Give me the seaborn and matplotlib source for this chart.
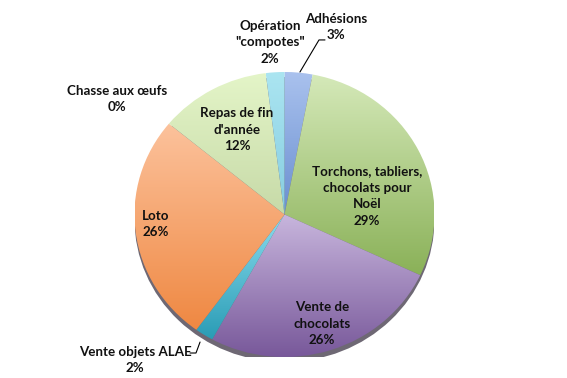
import numpy as np
import matplotlib
matplotlib.use("Agg")
import matplotlib.pyplot as plt
import seaborn as sns
from matplotlib.colors import LinearSegmentedColormap
from matplotlib.patches import Ellipse

sns.set_theme(style="white")
plt.rcParams['font.family'] = ['Lato', 'DejaVu Sans']

# ---- data ----
categories = ["Adhésions", "Torchons, tabliers,\nchocolats pour\nNoël",
              "Vente de\nchocolats", "Vente objets ALAE", "Loto",
              "Chasse aux œufs", "Repas de fin\nd'année", "Opération\n\"compotes\""]
values = [3, 29, 26, 2, 26, 0, 12, 2]
pct_labels = ["3%", "29%", "26%", "2%", "26%", "0%", "12%", "2%"]
top_colors = ["#AAC2EE", "#D5E9B9", "#C8B6DD", "#8ADCEE", "#FCC29C",
              "#E8A0A0", "#E4F5C8", "#ABE5F1"]
bot_colors = ["#6A8FD0", "#8AB158", "#78589A", "#2A9CB5", "#EF8842",
              "#C06060", "#C7DAA8", "#86CDE0"]

# label anchor positions (data units of the pie, radius 1)
label_pos = [(0.343, 1.316), (0.55, 0.13), (0.25, -0.768), (-0.997, -1.02),
             (-0.857, -0.067), (-1.117, 0.81), (-0.317, 0.593), (-0.097, 1.21)]

fig = plt.figure(figsize=(5.67, 3.78), dpi=100)
cx, cy, rx, ry = 284.5, 214.5, 150.0, 142.5
ax = fig.add_axes([(cx - rx) / 567, (378 - cy - ry) / 378, 2 * rx / 567, 2 * ry / 378])

# shadow
shadow = Ellipse((0.0, -0.035), 2.0, 2.0, facecolor="#3d3545", alpha=0.75,
                 edgecolor="none", zorder=0)
ax.add_patch(shadow)

wedges, _ = ax.pie(values, startangle=90, counterclock=False, radius=1.0,
                   colors=top_colors, wedgeprops=dict(linewidth=0))

for w, v, ct, cb in zip(wedges, values, top_colors, bot_colors):
    if v == 0:
        w.set_visible(False)
        continue
    w.set_facecolor("none")
    bb = w.get_path().get_extents()
    cmap = LinearSegmentedColormap.from_list("g", [cb, ct])
    grad = np.linspace(0, 1, 256).reshape(-1, 1)
    im = ax.imshow(grad, extent=[bb.x0, bb.x1, bb.y0, bb.y1], origin="lower",
                   cmap=cmap, interpolation="bilinear", zorder=1)
    im.set_clip_path(w)

ax.set_aspect("auto")
ax.set_xlim(-1, 1)
ax.set_ylim(-1, 1)
ax.axis("off")

for cat, p, (x, y) in zip(categories, pct_labels, label_pos):
    ax.text(x, y, cat + "\n" + p, ha="center", va="center", fontsize=9.6,
            fontweight="bold", color="#111111", linespacing=1.45, zorder=5,
            clip_on=False)

# leader lines
ax.plot([0.103, 0.23, 0.27], [1.0, 1.225, 1.225], color="black", lw=0.8,
        clip_on=False, zorder=4)
ax.plot([-0.563, -0.59, -0.63], [-0.895, -0.972, -0.972], color="black", lw=0.8,
        clip_on=False, zorder=4)

fig.savefig("out.png", dpi=100)
